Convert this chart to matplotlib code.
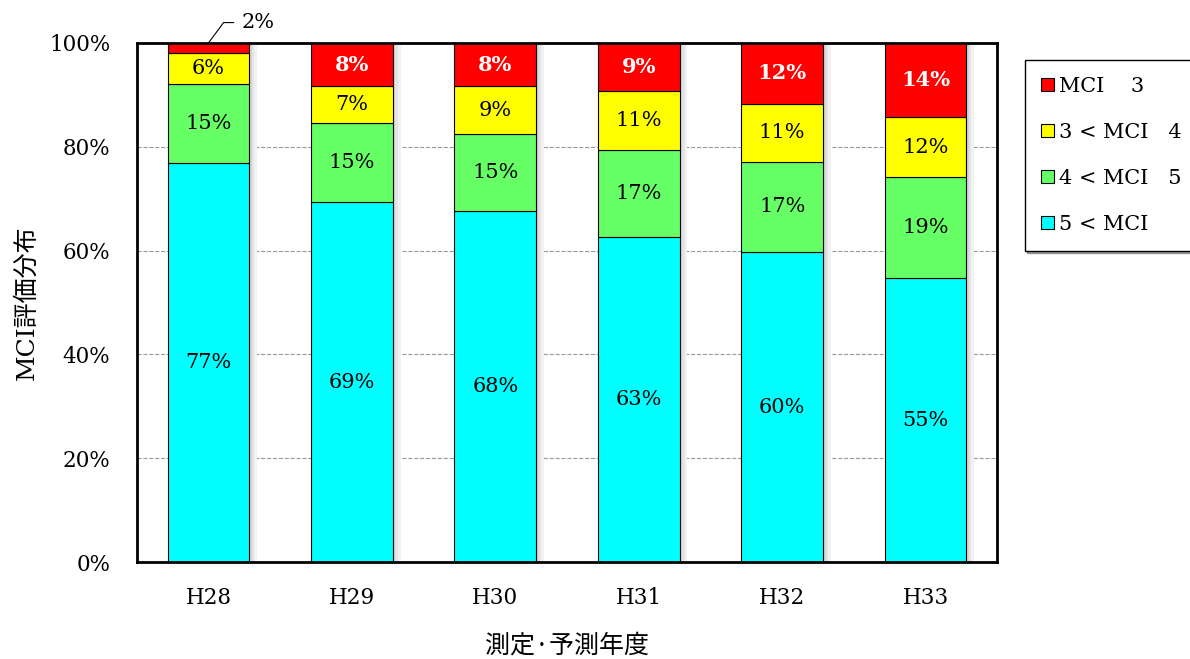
import matplotlib
matplotlib.use("Agg")
import matplotlib.pyplot as plt
import numpy as np

plt.rcParams['font.family'] = ['DejaVu Serif', 'Noto Sans CJK JP']

years = ['H28', 'H29', 'H30', 'H31', 'H32', 'H33']
mci_over5 = [76.8, 69.3, 67.7, 62.6, 59.7, 54.7]
mci_4to5 = [15.2, 15.3, 14.7, 16.8, 17.4, 19.4]
mci_3to4 = [6.0, 7.0, 9.2, 11.4, 11.2, 11.6]
mci_le3 = [2.0, 8.4, 8.4, 9.2, 11.7, 14.3]

series = [
    ('5 < MCI', mci_over5, '#00ffff'),
    ('4 < MCI   5', mci_4to5, '#66ff66'),
    ('3 < MCI   4', mci_3to4, '#ffff00'),
    ('MCI    3', mci_le3, '#ff0000'),
]

fig = plt.figure(figsize=(11.9, 6.59), dpi=100)
ax = fig.add_axes([0.115, 0.147, 0.723, 0.788])

x = np.arange(len(years))
width = 0.57
totals = np.sum([s[1] for s in series], axis=0)

# soft drop shadow to the right of each bar
for off, c in [(0.055, '#f2f2f2'), (0.035, '#e4e4e4'), (0.018, '#d4d4d4')]:
    ax.bar(x + off, totals, width, color=c, linewidth=0, zorder=2)

bottom = np.zeros(len(years))
handles = []
for name, vals, col in series:
    vals = np.array(vals)
    b = ax.bar(x, vals, width, bottom=bottom, color=col, edgecolor='black',
               linewidth=0.8, label=name, zorder=3)
    handles.append(b)
    for i, v in enumerate(vals):
        if v < 4:
            continue
        red = col == '#ff0000'
        ax.text(x[i], bottom[i] + v / 2, f'{v:.0f}%', ha='center', va='center',
                fontsize=15, color='white' if red else 'black',
                fontweight='bold' if red else 'normal', zorder=4)
    bottom += vals

# small top segment labelled outside with a leader line
ax.plot([x[0], x[0] + 0.105, x[0] + 0.175], [100, 103.9, 103.9],
        color='black', lw=0.8, clip_on=False, zorder=5)
ax.text(x[0] + 0.23, 104, f'{mci_le3[0]:.0f}%', fontsize=15, va='center', ha='left')

ax.set_xlim(-0.5, len(years) - 0.5)
ax.set_ylim(0, 100)
ax.set_yticks(np.arange(0, 101, 20))
ax.set_yticklabels([f'{t}%' for t in range(0, 101, 20)], fontsize=15.5)
ax.set_xticks(x)
ax.set_xticklabels(years, fontsize=15.5)
ax.tick_params(axis='y', length=0, pad=19)
ax.tick_params(axis='x', length=0, pad=18)
ax.yaxis.grid(True, linestyle='--', color='#999999', linewidth=0.8, zorder=0)
for s in ax.spines.values():
    s.set_linewidth(2)
    s.set_zorder(6)

ax.set_ylabel('MCI評価分布', fontsize=18, labelpad=8)
ax.set_xlabel('測定·予測年度', fontsize=18, family=['Noto Sans CJK JP'], labelpad=17)

leg = fig.legend(handles[::-1], [s[0] for s in series][::-1],
                 loc='upper left', bbox_to_anchor=(0.861, 0.909), borderaxespad=0,
                 fontsize=15, frameon=True, fancybox=False, shadow=True,
                 edgecolor='black', handlelength=0.6, handleheight=0.6,
                 handletextpad=0.25, labelspacing=1.3, borderpad=0.8)
leg.get_frame().set_linewidth(1.0)

fig.savefig('out.png', dpi=100)
